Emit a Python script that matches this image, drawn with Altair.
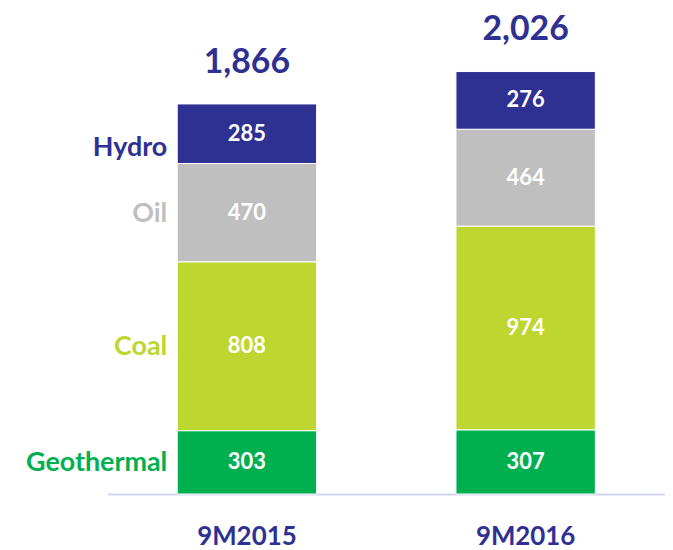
import altair as alt
import pandas as pd

periods = ["9M2015", "9M2016"]
totals_shown = [1866, 2026]
sources = ["Geothermal", "Coal", "Oil", "Hydro"]
values_2015 = [303, 808, 470, 285]
values_2016 = [307, 974, 464, 276]
colors = ["#00B050", "#BED630", "#BFBFBF", "#2E3192"]
label_colors = ["#00B050", "#BED630", "#B3B3B3", "#2E3192"]

rows = []
for i, s in enumerate(sources):
    rows.append({"period": periods[0], "source": s, "value": values_2015[i], "ord": i})
    rows.append({"period": periods[1], "source": s, "value": values_2016[i], "ord": i})
df = pd.DataFrame(rows)
df_tot = pd.DataFrame({"period": periods, "total": totals_shown})

FONT = "Lato"
NAVY = "#2E3192"

x_enc = alt.X("period:N", sort=periods,
              scale=alt.Scale(paddingInner=0.5, paddingOuter=0.25),
              axis=alt.Axis(title=None, labelAngle=0, ticks=False,
                            domainColor="#D4D4F0", domainWidth=2,
                            labelFont=FONT, labelFontSize=26, labelFontWeight="bold",
                            labelColor=NAVY, labelPadding=30))
y_scale = alt.Scale(domain=[0, 2300], nice=False)

base = alt.Chart(df).transform_stack(
    stack="value", groupby=["period"], as_=["y0", "y1"],
    sort=[alt.SortField("ord", order="ascending")]
).transform_calculate(mid="(datum.y0 + datum.y1) / 2")

bars = base.mark_bar(stroke="white", strokeWidth=1).encode(
    x=x_enc,
    y=alt.Y("y0:Q", scale=y_scale, axis=None),
    y2="y1:Q",
    color=alt.Color("source:N", scale=alt.Scale(domain=sources, range=colors), legend=None),
)

seg_labels = base.mark_text(font=FONT, fontSize=22, fontWeight="bold", color="white").encode(
    x=alt.X("period:N", sort=periods),
    y=alt.Y("mid:Q", scale=y_scale),
    text="value:Q",
)

cat_labels = base.transform_filter(alt.datum.period == periods[0]).transform_calculate(
    ly="datum.mid - (datum.source == 'Hydro' ? 62 : 0)"
).mark_text(
    font=FONT, fontSize=27, fontWeight="bold", align="right", dx=-80, dy=1
).encode(
    x=alt.X("period:N", sort=periods),
    y=alt.Y("ly:Q", scale=y_scale),
    text="source:N",
    color=alt.Color("source:N", scale=alt.Scale(domain=sources, range=label_colors), legend=None),
)

totals = alt.Chart(df_tot).mark_text(
    font=FONT, fontSize=34, fontWeight="bold", color=NAVY, baseline="bottom", dy=-24
).encode(
    x=alt.X("period:N", sort=periods),
    y=alt.Y("total:Q", scale=y_scale),
    text=alt.Text("total:Q", format=","),
)

chart = alt.layer(bars, seg_labels, cat_labels, totals).properties(
    width=560, height=483,
    padding={"left": 100, "top": 4, "right": 0, "bottom": 55},
    autosize="none",
).configure_view(stroke=None)

chart.save("out.html", embed_options={"renderer": "svg", "actions": False})
